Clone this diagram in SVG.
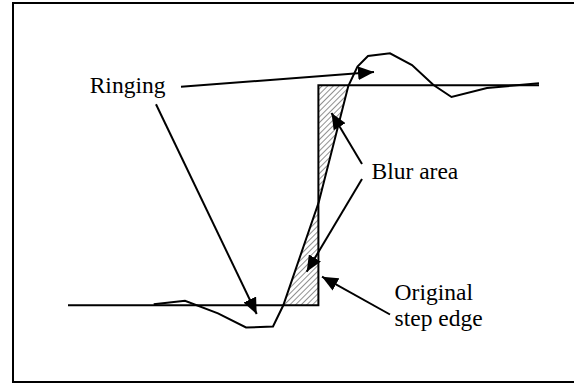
<svg xmlns="http://www.w3.org/2000/svg" width="574" height="383" viewBox="0 0 574 383">
<style>
.ln{fill:none;stroke:#000;stroke-width:2;stroke-linejoin:miter}
.ar{fill:none;stroke:#000;stroke-width:2}
.lbl{font-family:"Liberation Serif","Times New Roman",serif;font-size:23.5px;fill:#000}
</style>
<defs>
<pattern id="hatch" patternUnits="userSpaceOnUse" width="4" height="4" patternTransform="rotate(45)">
<rect width="4" height="4" fill="#fff"/>
<line x1="0" y1="0" x2="0" y2="4" stroke="#555" stroke-width="1.3"/>
</pattern>
<marker id="ah" markerUnits="userSpaceOnUse" markerWidth="16" markerHeight="14" refX="16" refY="7" orient="auto">
<path d="M0,0 L16,7 L0,14 Z" fill="#000"/>
</marker>
</defs>
<rect x="13" y="3" width="562" height="379" fill="#fff" stroke="#000" stroke-width="2"/>
<g id="blur-hatch">
<polygon points="318.4,85.3 348.3,85.3 318.6,202" fill="url(#hatch)"/>
<polygon points="318.6,202 318.4,305.3 283.3,305.3" fill="url(#hatch)"/>
</g>
<g id="step-edge">
<path class="ln" d="M68,305.3 L318.4,305.3 L318.4,85.3 L539,85.3"/>
</g>
<g id="ringing-curve">
<path class="ln" d="M153.7,304.3 L185,300.7 L218,313.3 L246,327.5 L273,326.5 L283.3,305.3 L318.8,202 L348.3,86 L357.5,66.5 L368,56 L390,53.3 L412,65 L433.5,85 L451.5,97 L487,88 L539,83.3"/>
</g>
<g id="connectors">
<line class="ar" x1="181" y1="86.7" x2="374" y2="72" marker-end="url(#ah)"/>
<line class="ar" x1="156" y1="104.3" x2="256.7" y2="314" marker-end="url(#ah)"/>
<line class="ar" x1="362" y1="164" x2="331.5" y2="113" marker-end="url(#ah)"/>
<line class="ar" x1="362" y1="179" x2="306.7" y2="271.7" marker-end="url(#ah)"/>
<line class="ar" x1="390" y1="314.5" x2="322" y2="276.7" marker-end="url(#ah)"/>
</g>
<g id="label-ringing"><text class="lbl" x="89.7" y="93.3">Ringing</text></g>
<g id="label-blur"><text class="lbl" x="371.5" y="179.3">Blur area</text></g>
<g id="label-step"><text class="lbl" x="394.6" y="300">Original</text><text class="lbl" x="394.6" y="326">step edge</text></g>
</svg>
